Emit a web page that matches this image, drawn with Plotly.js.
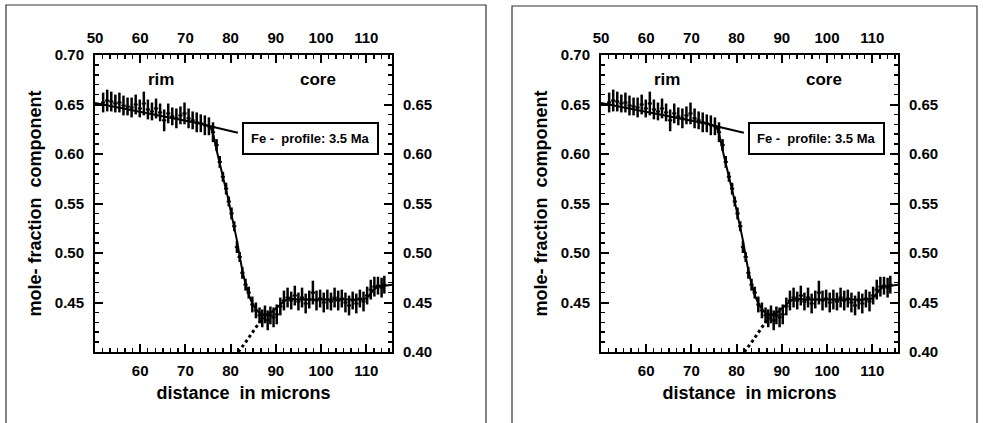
<!DOCTYPE html>
<html>
<head>
<meta charset="utf-8">
<script src="https://cdn.plot.ly/plotly-3.0.1.min.js"></script>
<style>html,body{margin:0;padding:0;background:#fff;}#chart{width:983px;height:423px;}</style>
</head>
<body>
<div id="chart"></div>
<script>
// ---- data ----
const pointX = [51.8,52.7,53.6,54.5,55.4,56.3,57.2,58.1,59.0,59.9,60.8,61.7,62.6,63.5,64.4,65.3,66.2,67.1,68.0,68.9,69.8,70.7,71.6,72.5,73.4,74.3,75.2,76.1,
  76.9,77.6,78.3,79.0,79.6,80.2,80.8,81.4,82.0,82.6,83.3,84.0,84.8,85.6,86.4,87.0,87.6,88.2,88.8,89.5,90.2,91.0,91.8,92.6,93.4,94.2,95.0,95.8,96.6,97.4,98.2,99.0,99.8,100.6,101.4,102.2,103.0,103.8,104.6,105.4,106.2,107.0,107.8,108.6,109.4,110.2,111.0,111.8,112.6,113.4,114.0];
const pointY = [0.652,0.654,0.653,0.651,0.652,0.649,0.648,0.647,0.650,0.646,0.651,0.645,0.643,0.646,0.642,0.634,0.641,0.638,0.636,0.639,0.641,0.636,0.634,0.632,0.631,0.629,0.628,0.622,
  0.609,0.592,0.577,0.565,0.552,0.540,0.527,0.506,0.496,0.480,0.468,0.460,0.448,0.442,0.437,0.434,0.438,0.432,0.437,0.435,0.438,0.446,0.452,0.455,0.452,0.457,0.451,0.455,0.449,0.453,0.460,0.452,0.454,0.450,0.453,0.451,0.455,0.452,0.454,0.450,0.447,0.452,0.449,0.454,0.451,0.457,0.463,0.466,0.467,0.465,0.468];
const pointErr = [0.010,0.011,0.010,0.009,0.010,0.010,0.009,0.010,0.010,0.009,0.012,0.010,0.009,0.010,0.009,0.011,0.010,0.009,0.010,0.009,0.011,0.010,0.009,0.010,0.009,0.010,0.009,0.010,
  0.006,0.006,0.005,0.006,0.005,0.006,0.005,0.006,0.005,0.006,0.006,0.006,0.008,0.008,0.008,0.009,0.009,0.010,0.009,0.010,0.010,0.009,0.010,0.010,0.009,0.010,0.009,0.010,0.010,0.009,0.012,0.010,0.009,0.010,0.010,0.009,0.010,0.010,0.009,0.010,0.010,0.009,0.010,0.009,0.010,0.009,0.010,0.010,0.009,0.010,0.009];

const fitX = [50,55,60,65,70,74,75.5,76.2,77.0,77.7,78.5,79.2,79.9,80.6,81.3,82.0,82.6,83.3,84.0,84.8,85.8,86.9,88.0,89.0,90.0,91.0,92.0,93.0,95.0,100.0,105.0,109.5,110.5,111.5,112.5,115.7];
const fitY = [0.6515,0.647,0.643,0.638,0.634,0.630,0.628,0.619,0.602,0.587,0.573,0.560,0.546,0.532,0.515,0.497,0.482,0.469,0.458,0.449,0.442,0.437,0.4375,0.440,0.444,0.448,0.452,0.454,0.453,0.453,0.453,0.453,0.456,0.462,0.466,0.468];

const rimExtX = [75.5, 81.6];
const rimExtY = [0.628, 0.6215];

const coreExtX = [81.7,82.6,83.5,84.4,85.3,86.2,87.0];
const coreExtY = [0.400,0.405,0.411,0.417,0.423,0.429,0.434];

const bottomTicks = [50,60,70,80,90,100,110];
const bottomLabels = ['','60','70','80','90','100','110'];
const topLabels = ['50','60','70','80','90','100','110'];
const yTicks = [0.40,0.45,0.50,0.55,0.60,0.65,0.70];
const leftLabels = ['','0.45','0.50','0.55','0.60','0.65','0.70'];
const rightLabels = ['0.40','0.45','0.50','0.55','0.60','0.65',''];

const xTitle = 'distance  in microns';
const yTitle = 'mole- fraction  component';
const boxLabel = 'Fe -  profile: 3.5 Ma';
const rimLabel = 'rim';
const coreLabel = 'core';

// ---- build ----
const W = 983, H = 423;
const FONT = 'Liberation Sans, Arial, sans-serif';
const yDom = [1 - 352/H, 1 - 55/H];
const panels = [
  {xd: [95/W, 392/W], xs: ['x','x2'], ys: ['y','y2'], frame: [6/W, 486/W, 1 - 5/H]},
  {xd: [601/W, 898/W], xs: ['x3','x4'], ys: ['y3','y4'], frame: [512/W, 977/W, 1 - 6/H]}
];

const traces = [];
const layout = {
  width: W, height: H,
  margin: {l:0, r:0, t:0, b:0},
  paper_bgcolor: '#fff', plot_bgcolor: '#fff',
  showlegend: false,
  font: {family: FONT, color: '#000'},
  annotations: [], shapes: []
};

function axKey(ref){ return ref === 'x' ? 'xaxis' : ref === 'y' ? 'yaxis' : ref[0] + 'axis' + ref.slice(1); }

const tickFont = {family: FONT, size: 15, weight: 'bold', color: '#000'};
const titleFont = {family: FONT, size: 18, weight: 'bold', color: '#000'};
const minorX = {tick0: 50, dtick: 10/6, ticks:'inside', ticklen:4, tickwidth:1.5, tickcolor:'#000'};
const minorY = {tick0: 0.40, dtick: 0.01, ticks:'inside', ticklen:4, tickwidth:1.5, tickcolor:'#000'};

panels.forEach((p, i) => {
  const [xb, xt] = p.xs, [yl, yr] = p.ys;
  const common = {showgrid:false, zeroline:false, showline:true, linewidth:2, linecolor:'#000',
    ticks:'inside', ticklen:8, tickwidth:2, tickcolor:'#000', tickfont: tickFont, fixedrange:true};
  layout[axKey(xb)] = Object.assign({}, common, {
    domain: p.xd, anchor: yl, side: 'bottom', range: [50, 115.7],
    tickmode:'array', tickvals: bottomTicks, ticktext: bottomLabels, ticklabelstandoff: 4,
    minor: minorX,
    title: {text: xTitle, font: titleFont, standoff: 8}
  });
  layout[axKey(xt)] = Object.assign({}, common, {
    domain: p.xd, anchor: yr, overlaying: xb, side: 'top', range: [50, 115.7],
    tickmode:'array', tickvals: bottomTicks, ticktext: topLabels, ticklabelstandoff: 4,
    minor: minorX
  });
  layout[axKey(yl)] = Object.assign({}, common, {
    domain: yDom, anchor: xb, side: 'left', range: [0.40, 0.70],
    tickmode:'array', tickvals: yTicks, ticktext: leftLabels, ticklabelstandoff: 6,
    minor: minorY,
    title: {text: yTitle, font: titleFont, standoff: 8}
  });
  layout[axKey(yr)] = Object.assign({}, common, {
    domain: yDom, anchor: xt, overlaying: yl, side: 'right', range: [0.40, 0.70],
    tickmode:'array', tickvals: yTicks, ticktext: rightLabels, ticklabelstandoff: 6,
    minor: minorY
  });

  // carrier trace so the top/right axes are drawn
  traces.push({x: [null], y: [null], xaxis: xt, yaxis: yr, mode:'markers', marker:{opacity:0}, hoverinfo:'skip'});

  traces.push({x: fitX, y: fitY, xaxis: xb, yaxis: yl, mode:'lines', line:{color:'#000', width:2}, hoverinfo:'skip'});
  traces.push({x: rimExtX, y: rimExtY, xaxis: xb, yaxis: yl, mode:'lines', line:{color:'#000', width:2}, hoverinfo:'skip'});
  traces.push({x: coreExtX, y: coreExtY, xaxis: xb, yaxis: yl, mode:'lines', line:{color:'#000', width:3, dash:'dot'}, hoverinfo:'skip'});
  traces.push({x: pointX, y: pointY, xaxis: xb, yaxis: yl, mode:'markers',
    marker:{symbol:'line-ew-open', size:3, color:'#000', line:{color:'#000', width:2}},
    error_y:{type:'data', array: pointErr, visible:true, color:'#000', thickness:2.5, width:0},
    hoverinfo:'skip'});

  layout.annotations.push({xref: xb, yref: yl, x: 97.7, y: 0.6157, text: boxLabel, showarrow:false,
    font:{family: FONT, size: 13, weight:'bold', color:'#000'}, bordercolor:'#000', borderwidth:2, borderpad:7, bgcolor:'#fff'});
  layout.annotations.push({xref: xb, yref: yl, x: 64.5, y: 0.675, text: rimLabel, showarrow:false,
    font:{family: FONT, size: 17, weight:'bold', color:'#000'}});
  layout.annotations.push({xref: xb, yref: yl, x: 99.4, y: 0.675, text: coreLabel, showarrow:false,
    font:{family: FONT, size: 17, weight:'bold', color:'#000'}});

  const [f0, f1, ft] = p.frame;
  layout.shapes.push({type:'path', xref:'paper', yref:'paper',
    path: `M ${f0} -0.05 L ${f0} ${ft} L ${f1} ${ft} L ${f1} -0.05`,
    line:{color:'#333', width:1.2}});
});

Plotly.newPlot('chart', traces, layout, {staticPlot:true, displayModeBar:false});
</script>
</body>
</html>
